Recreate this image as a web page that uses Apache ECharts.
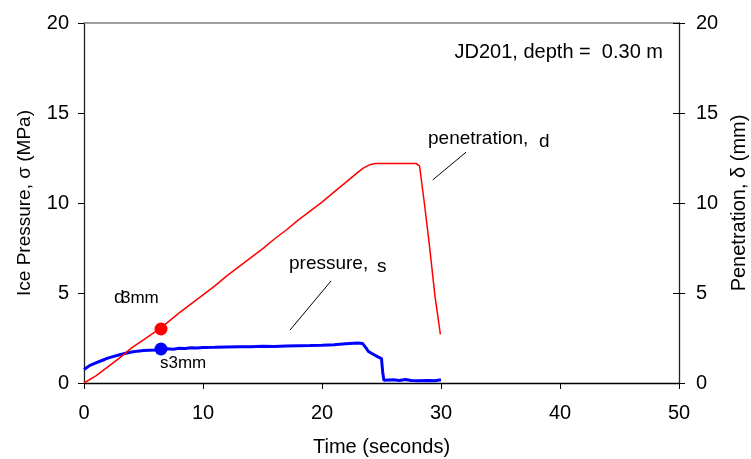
<!DOCTYPE html>
<html>
<head>
<meta charset="utf-8">
<script src="https://cdn.jsdelivr.net/npm/echarts@6/dist/echarts.min.js"></script>
<style>html,body{margin:0;padding:0;background:#fff}#c{width:751px;height:459px}</style>
</head>
<body>
<div id="c"></div>
<script>
// Time (s) and ice pressure (MPa)
var pressureTime = [0,0.5,1,1.5,2,2.5,3,3.5,4,4.5,5,5.5,6,6.5,7,7.5,8,8.5,9,9.5,10,11,12,13,14,15,16,17,18,19,20,21,22,23,23.4,23.7,23.9,24.3,24.7,25.0,25.1,25.2,26,26.5,27,27.5,28,29,29.5,30];
var pressureVal  = [0.75,0.98,1.12,1.25,1.38,1.48,1.57,1.65,1.72,1.77,1.8,1.82,1.84,1.87,1.9,1.88,1.93,1.92,1.96,1.95,1.97,1.98,2.0,2.01,2.02,2.04,2.03,2.06,2.07,2.08,2.1,2.13,2.18,2.22,2.2,1.95,1.75,1.6,1.45,1.35,0.6,0.15,0.18,0.14,0.2,0.14,0.13,0.14,0.13,0.18];
// Time (s) and penetration (mm)
var penTime = [0,1,2,3,4,5,6,7,8,9,10,11,12,13,14,15,16,17,18,19,20,21,22,23,23.5,24,24.5,27.9,28.2,28.6,29.0,29.5,29.95];
var penVal  = [0,0.4,0.9,1.4,1.95,2.4,2.85,3.35,3.9,4.4,4.9,5.4,5.95,6.45,6.95,7.45,8.0,8.5,9.05,9.55,10.05,10.6,11.15,11.7,11.95,12.12,12.2,12.2,12.05,10.0,7.8,4.8,2.7];
// 3 mm markers
var marker3mmTime = 6.47;
var marker3mmPen = 3.0;
var marker3mmPressure = 1.89;
// Axis ticks
var xTicks = [0,10,20,30,40,50];
var yTicks = [0,5,10,15,20];

function pairs(a,b){return a.map(function(v,i){return [v,b[i]];});}
var font = 'Liberation Sans, Arial, sans-serif';
var chart = echarts.init(document.getElementById('c'));
chart.setOption({
  animation:false,
  backgroundColor:'#fff',
  grid:{left:84,right:72,top:23,bottom:76,containLabel:false,outerBoundsMode:'none'},
  xAxis:[{
    type:'value',min:xTicks[0],max:xTicks[xTicks.length-1],interval:10,position:'bottom',
    name:'Time (seconds)',nameLocation:'middle',nameGap:54,
    nameTextStyle:{fontFamily:font,fontSize:20,color:'#000'},
    axisLine:{onZero:false,lineStyle:{color:'#000',width:1.3}},
    axisTick:{length:6,lineStyle:{color:'#000'}},
    axisLabel:{margin:20,fontFamily:font,fontSize:20,color:'#000'},
    splitLine:{show:false}
  },{
    type:'value',min:0,max:50,position:'top',
    axisLine:{show:true,onZero:false,lineStyle:{color:'#808080',width:1.5}},
    axisTick:{show:false},axisLabel:{show:false},splitLine:{show:false}
  }],
  yAxis:[{
    type:'value',min:yTicks[0],max:yTicks[yTicks.length-1],interval:5,position:'left',
    name:'Ice Pressure, \u03c3 (MPa)',nameLocation:'middle',nameGap:50,
    nameTextStyle:{fontFamily:font,fontSize:19,color:'#000'},
    axisLine:{show:true,onZero:false,lineStyle:{color:'#222',width:1.3}},
    axisTick:{show:true,length:6,lineStyle:{color:'#000'}},
    axisLabel:{margin:15,fontFamily:font,fontSize:20,color:'#000'},
    splitLine:{show:false}
  },{
    type:'value',min:0,max:20,interval:5,position:'right',
    name:'Penetration, \u03b4 (mm)',nameLocation:'middle',nameGap:48,
    nameTextStyle:{fontFamily:font,fontSize:20,color:'#000'},
    axisLine:{show:true,onZero:false,lineStyle:{color:'#222',width:1.3}},
    axisTick:{show:true,length:6,lineStyle:{color:'#000'}},
    axisLabel:{margin:17,fontFamily:font,fontSize:20,color:'#000'},
    splitLine:{show:false}
  },{
    type:'value',min:0,max:20,interval:5,position:'right',
    axisLine:{show:false,onZero:false},
    axisTick:{show:true,inside:true,length:6,lineStyle:{color:'#000'}},
    axisLabel:{show:false},splitLine:{show:false}
  }],
  series:[{
    type:'line',name:'penetration',yAxisIndex:1,data:pairs(penTime,penVal),
    showSymbol:false,lineStyle:{color:'#ff0000',width:1.5},z:3,
    markLine:{silent:true,symbol:['none','none'],label:{show:false},
      lineStyle:{color:'#000',width:1,type:'solid'},
      data:[[{coord:[29.3,11.28]},{coord:[32.1,12.82]}],
            [{coord:[17.31,2.94]},{coord:[20.76,5.67]}]]}
  },{
    type:'line',name:'pressure',yAxisIndex:0,data:pairs(pressureTime,pressureVal),
    showSymbol:false,lineStyle:{color:'#0000ff',width:3},z:2
  },{
    type:'scatter',yAxisIndex:1,data:[[marker3mmTime,marker3mmPen]],
    symbolSize:13,itemStyle:{color:'#ff0000',opacity:1},z:5
  },{
    type:'scatter',yAxisIndex:0,data:[[marker3mmTime,marker3mmPressure]],
    symbolSize:13,itemStyle:{color:'#0000ff',opacity:1},z:5
  }],
  graphic:[
    {type:'text',right:88,top:42,style:{text:'JD201, depth =  0.30 m',font:'20px '+font,fill:'#000'}},
    {type:'text',left:428,top:129,style:{text:'penetration,',font:'19px '+font,fill:'#000'}},
    {type:'text',left:539,top:132,style:{text:'d',font:'19px '+font,fill:'#000'}},
    {type:'text',left:289,top:254,style:{text:'pressure,',font:'19px '+font,fill:'#000'}},
    {type:'text',left:377,top:257,style:{text:'s',font:'19px '+font,fill:'#000'}},
    {type:'text',left:114,top:288,style:{text:'d',font:'19px '+font,fill:'#000'}},
    {type:'text',left:121,top:290,style:{text:'3mm',font:'17px '+font,fill:'#000'}},
    {type:'text',left:160,top:355,style:{text:'s3mm',font:'17px '+font,fill:'#000'}}
  ]
});
</script>
</body>
</html>
